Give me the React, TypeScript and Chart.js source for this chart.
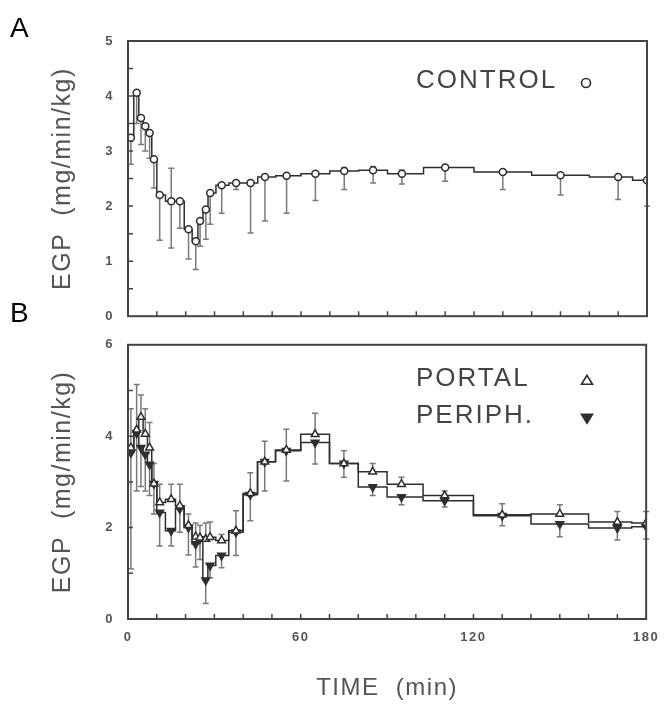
import React, { useEffect, useRef } from 'react';
import { Chart, registerables } from 'chart.js';

Chart.register(...registerables);

// ---------- DATA ----------
const timePoints = [1, 3, 4.5, 6, 7.5, 9, 11, 15, 18, 21, 23.5, 25, 27, 28.5, 32.5, 37.5, 42.5, 47.5, 55, 65, 75, 85, 95, 110, 130, 150, 170, 180];

// Panel A: CONTROL
const controlEGP = [3.24, 4.06, 3.6, 3.45, 3.33, 2.85, 2.2, 2.09, 2.09, 1.58, 1.36, 1.73, 1.94, 2.24, 2.38, 2.42, 2.42, 2.53, 2.55, 2.59, 2.64, 2.65, 2.59, 2.7, 2.62, 2.56, 2.53, 2.47];
const controlLow = [2.76, 3.5, 3.12, 3.0, 2.87, 2.33, 1.38, 1.24, 1.6, 1.04, 0.85, 1.27, 1.4, 1.67, 1.87, 2.3, 1.51, 1.73, 1.87, 2.1, 2.3, 2.42, 2.4, 2.45, 2.3, 2.2, 2.12, 2.0];
const controlHigh = [3.24, 4.06, 3.6, 3.45, 3.33, 2.85, 2.2, 2.69, 2.09, 1.58, 1.36, 1.73, 1.94, 2.24, 2.38, 2.42, 2.42, 2.53, 2.55, 2.59, 2.7, 2.72, 2.65, 2.75, 2.62, 2.56, 2.53, 2.47];

// Panel B: PORTAL (open triangle up) and PERIPH. (filled triangle down)
const portalEGP = [3.75, 4.14, 4.42, 4.05, 3.75, 2.96, 2.55, 2.62, 2.48, 2.05, 1.8, 1.78, 1.75, 1.79, 1.72, 1.93, 2.75, 3.44, 3.7, 4.04, 3.4, 3.22, 2.95, 2.7, 2.28, 2.3, 2.12, 2.1];
const portalHigh = [4.6, 5.13, 4.9, 4.6, 4.3, 3.4, 2.95, 2.95, 2.95, 2.3, 2.1, 2.05, 2.1, 2.12, 1.85, 2.37, 3.2, 3.89, 4.15, 4.5, 3.68, 3.4, 3.1, 2.8, 2.52, 2.5, 2.35, 2.35];
const periphEGP = [3.64, 4.07, 3.75, 3.6, 3.38, 2.96, 2.33, 1.93, 2.41, 2.0, 1.64, 1.75, 0.85, 1.17, 1.39, 1.9, 2.72, 3.44, 3.68, 3.86, 3.4, 2.89, 2.67, 2.59, 2.26, 2.08, 1.99, 2.02];
const periphLow = [1.1, 2.8, 2.9, 2.8, 2.7, 2.3, 1.6, 1.6, 1.9, 1.4, 1.14, 1.3, 0.34, 0.9, 1.12, 1.39, 2.15, 2.8, 3.02, 3.39, 3.1, 2.7, 2.5, 2.45, 2.04, 1.8, 1.73, 1.75];

const xTickLabels = [0, 60, 120, 180];
const yTicksA = [0, 1, 2, 3, 4, 5];
const yTicksB = [0, 2, 4, 6];

// ---------- STYLE ----------
const FONT = "'Liberation Sans', Arial, Helvetica, sans-serif";
const INK = '#2e2e2e';
const BAR = '#7a7a7a';
const TXT = '#555';

const pts = (vals: number[]) => timePoints.map((t, i) => ({ x: t, y: vals[i] }));
const stepPts = (vals: number[]) => [{ x: xTickLabels[0], y: vals[0] }, ...pts(vals)];

function drawMarker(ctx: CanvasRenderingContext2D, kind: string, x: number, y: number) {
  ctx.save();
  ctx.lineWidth = 1.6;
  ctx.strokeStyle = INK;
  ctx.beginPath();
  if (kind === 'circle') {
    ctx.arc(x, y, 4.5, 0, Math.PI * 2);
    ctx.fillStyle = '#fff';
    ctx.fill();
  } else if (kind === 'up') {
    ctx.moveTo(x, y - 5.5);
    ctx.lineTo(x + 5.5, y + 3.5);
    ctx.lineTo(x - 5.5, y + 3.5);
    ctx.closePath();
    ctx.fillStyle = '#fff';
    ctx.fill();
  } else {
    ctx.moveTo(x, y + 5.5);
    ctx.lineTo(x + 5.5, y - 3.5);
    ctx.lineTo(x - 5.5, y - 3.5);
    ctx.closePath();
    ctx.fillStyle = INK;
    ctx.fill();
  }
  ctx.stroke();
  ctx.restore();
}

const framePlugin = {
  id: 'frame',
  beforeDraw(chart: any) {
    (chart.ctx as any).letterSpacing = '1.5px';
  },
  beforeDatasetsDraw(chart: any, _args: any, opts: any) {
    const { ctx, scales } = chart;
    const x = scales.x, y = scales.y;
    ctx.save();
    ctx.strokeStyle = BAR;
    ctx.lineWidth = 1.5;
    (opts.errorBars || []).forEach((eb: any) => {
      eb.values.forEach((v: number, i: number) => {
        const px = x.getPixelForValue(timePoints[i]);
        const py = y.getPixelForValue(v);
        [eb.low ? eb.low[i] : null, eb.high ? eb.high[i] : null].forEach((b: number | null) => {
          if (b == null || b === v) return;
          const pb = y.getPixelForValue(b);
          ctx.beginPath();
          ctx.moveTo(px, py);
          ctx.lineTo(px, pb);
          ctx.moveTo(px - 3, pb);
          ctx.lineTo(px + 3, pb);
          ctx.stroke();
        });
      });
    });
    ctx.restore();
  },
  afterDraw(chart: any, _args: any, opts: any) {
    const { ctx, chartArea: ca, scales } = chart;
    const x = scales.x, y = scales.y;
    ctx.save();
    (ctx as any).letterSpacing = '0px';
    ctx.strokeStyle = '#444';
    ctx.lineWidth = 2;
    ctx.strokeRect(ca.left, ca.top, ca.right - ca.left, ca.bottom - ca.top);
    ctx.lineWidth = 1.5;
    ctx.beginPath();
    for (let v = x.min + opts.xStep; v < x.max; v += opts.xStep) {
      const px = x.getPixelForValue(v);
      ctx.moveTo(px, ca.bottom);
      ctx.lineTo(px, ca.bottom - 5);
    }
    for (let v = y.min + opts.yStep; v < y.max; v += opts.yStep) {
      const py = y.getPixelForValue(v);
      ctx.moveTo(ca.left, py);
      ctx.lineTo(ca.left + 5, py);
    }
    ctx.stroke();
    // legend
    (opts.legend || []).forEach((it: any) => {
      ctx.font = `26px ${FONT}`;
      (ctx as any).letterSpacing = '2px';
      ctx.fillStyle = '#444';
      ctx.textBaseline = 'middle';
      ctx.textAlign = 'left';
      ctx.fillText(it.text, ca.left + it.dx, ca.top + it.dy);
      drawMarker(ctx, it.marker, ca.left + it.mx, ca.top + it.dy + 2);
    });
    ctx.restore();
  },
};

function makeScales(yMax: number, showX: boolean, yLabels: number[]) {
  return {
    x: {
      type: 'linear',
      min: xTickLabels[0],
      max: xTickLabels[xTickLabels.length - 1],
      grid: { display: false, drawTicks: false },
      border: { display: false },
      afterBuildTicks: (s: any) => { s.ticks = xTickLabels.map((v) => ({ value: v })); },
      ticks: { display: showX, padding: 11, color: TXT, font: { family: FONT, size: 13, weight: 'bold' } },
      title: showX
        ? { display: true, text: 'TIME  (min)', color: TXT, font: { family: FONT, size: 24 }, padding: { top: 0, bottom: 2 } }
        : { display: false },
      afterFit: (s: any) => { s.height = showX ? 86 : 15; },
    },
    y: {
      type: 'linear',
      min: 0,
      max: yMax,
      grid: { display: false, drawTicks: false },
      border: { display: false },
      afterBuildTicks: (s: any) => { s.ticks = yLabels.map((v) => ({ value: v })); },
      ticks: { padding: 14, color: TXT, font: { family: FONT, size: 13, weight: 'bold' } },
      title: { display: true, text: 'EGP  (mg/min/kg)', color: TXT, font: { family: FONT, size: 25 }, padding: { top: 48, bottom: 0 } },
      afterFit: (s: any) => { s.width = 128; },
    },
  };
}

export default function App() {
  const refA = useRef<HTMLCanvasElement>(null);
  const refB = useRef<HTMLCanvasElement>(null);

  useEffect(() => {
    const lineDs = (vals: number[]) => ({
      type: 'line',
      data: stepPts(vals),
      stepped: 'middle',
      borderColor: INK,
      borderWidth: 1.5,
      pointRadius: 0,
      fill: false,
    });
    const chartA = new Chart(refA.current as HTMLCanvasElement, {
      type: 'line',
      data: {
        datasets: [
          {
            label: 'CONTROL',
            data: pts(controlEGP),
            showLine: false,
            pointStyle: 'circle',
            pointRadius: 3.5,
            pointBorderWidth: 1.5,
            pointBorderColor: INK,
            pointBackgroundColor: '#fff',
          },
          lineDs(controlEGP),
        ] as any,
      },
      options: {
        responsive: false,
        animation: false,
        layout: { padding: { left: 0, right: 21, top: 41, bottom: 0 } },
        scales: makeScales(5, false, yTicksA) as any,
        plugins: {
          legend: { display: false },
          tooltip: { enabled: false },
          frame: {
            xStep: 10,
            yStep: 0.5,
            errorBars: [{ values: controlEGP, low: controlLow, high: controlHigh }],
            legend: [{ text: 'CONTROL', marker: 'circle', dx: 288, dy: 40, mx: 458 }],
          },
        } as any,
      },
      plugins: [framePlugin],
    } as any);

    const chartB = new Chart(refB.current as HTMLCanvasElement, {
      type: 'line',
      data: {
        datasets: [
          {
            label: 'PORTAL',
            data: pts(portalEGP),
            showLine: false,
            pointStyle: 'triangle',
            pointRadius: 4.5,
            pointBorderWidth: 1.5,
            pointBorderColor: INK,
            pointBackgroundColor: '#fff',
          },
          {
            label: 'PERIPH.',
            data: pts(periphEGP),
            showLine: false,
            pointStyle: 'triangle',
            pointRotation: 180,
            pointRadius: 4.5,
            pointBorderWidth: 1.5,
            pointBorderColor: INK,
            pointBackgroundColor: INK,
          },
          lineDs(portalEGP),
          lineDs(periphEGP),
        ] as any,
      },
      options: {
        responsive: false,
        animation: false,
        layout: { padding: { left: 0, right: 21, top: 20, bottom: 0 } },
        scales: makeScales(6, true, yTicksB) as any,
        plugins: {
          legend: { display: false },
          tooltip: { enabled: false },
          frame: {
            xStep: 10,
            yStep: 1,
            errorBars: [
              { values: portalEGP, high: portalHigh },
              { values: periphEGP, low: periphLow },
            ],
            legend: [
              { text: 'PORTAL', marker: 'up', dx: 288, dy: 34, mx: 459 },
              { text: 'PERIPH.', marker: 'down', dx: 288, dy: 71, mx: 459 },
            ],
          },
        } as any,
      },
      plugins: [framePlugin],
    } as any);

    return () => {
      chartA.destroy();
      chartB.destroy();
    };
  }, []);

  const panelLabel: React.CSSProperties = {
    position: 'absolute',
    left: 10,
    fontFamily: FONT,
    fontSize: 28,
    lineHeight: '28px',
    color: '#000',
    margin: 0,
  };

  return (
    <div style={{ position: 'absolute', left: 0, top: 0, width: 668, height: 705, background: '#fff', overflow: 'hidden' }}>
      <canvas ref={refA} width={668} height={338} style={{ position: 'absolute', left: 0, top: 0, width: 668, height: 338 }} />
      <canvas ref={refB} width={668} height={382} style={{ position: 'absolute', left: 0, top: 323, width: 668, height: 382 }} />
      <div style={{ ...panelLabel, top: 14 }}>A</div>
      <div style={{ ...panelLabel, top: 299 }}>B</div>
    </div>
  );
}
